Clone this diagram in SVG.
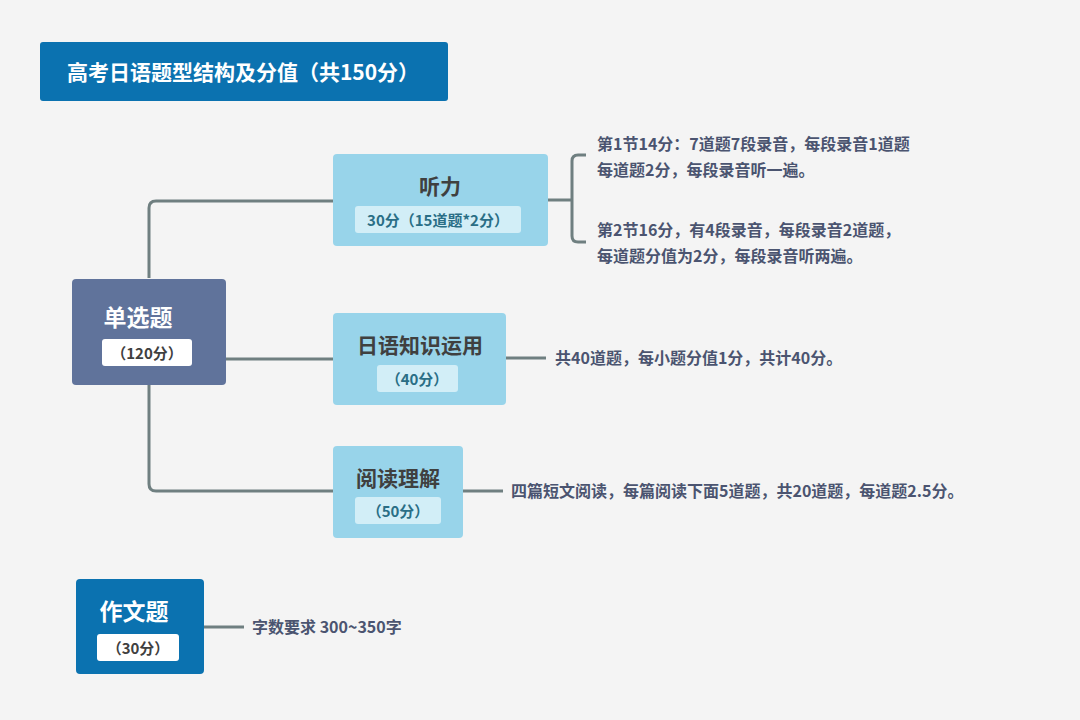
<svg xmlns="http://www.w3.org/2000/svg" width="1080" height="720" viewBox="0 0 1080 720">
<style>
text{font-family:"Noto Sans CJK SC","Liberation Sans",sans-serif;font-weight:bold}
.c{fill:none;stroke:#6f7f80;stroke-width:3}
.sub{fill:#d2eef7}
.t{fill:#3f4040;font-size:21px}
.s{fill:#2a6e86;font-size:15px}
.d{fill:#4b5470;font-size:16px}
</style>
<rect width="1080" height="720" fill="#f4f4f4"/>
<g id="title"><rect x="40" y="42" width="408" height="59" rx="3" fill="#0b72b0"/><text x="243" y="80" font-size="21" fill="#fff" text-anchor="middle">高考日语题型结构及分值（共150分）</text></g>
<g id="connectors">
<path class="c" d="M149 278 V208 Q149 201 156 201 H333"/>
<path class="c" d="M149 385 V484 Q149 491 156 491 H333"/>
<path class="c" d="M226 359 H333"/>
<path class="c" d="M548 200 H572 M586 155 H578 Q572 155 572 161 V236 Q572 242 578 242 H586"/>
<path class="c" d="M506 358 H546"/>
<path class="c" d="M463 491 H503"/>
<path class="c" d="M204 627 H244"/>
</g>
<g id="n-single"><rect x="72" y="279" width="154" height="106" rx="4" fill="#60739b"/><text x="138" y="326" font-size="23" fill="#fff" text-anchor="middle">单选题</text><rect x="102" y="339" width="90" height="27" rx="3" fill="#fff"/><text x="147" y="359" font-size="15" fill="#3f4040" text-anchor="middle">（120分）</text></g>
<g id="n-listen"><rect x="333" y="154" width="215" height="92" rx="4" fill="#98d4ea"/><text class="t" x="440" y="194" text-anchor="middle">听力</text><rect class="sub" x="355" y="206" width="166" height="27" rx="3"/><text class="s" x="438" y="226" text-anchor="middle">30分（15道题*2分）</text></g>
<g id="n-know"><rect x="333" y="313" width="173" height="92" rx="4" fill="#98d4ea"/><text class="t" x="420" y="353" text-anchor="middle">日语知识运用</text><rect class="sub" x="377" y="365" width="81" height="27" rx="3"/><text class="s" x="417" y="385" text-anchor="middle">（40分）</text></g>
<g id="n-read"><rect x="333" y="446" width="130" height="92" rx="4" fill="#98d4ea"/><text class="t" x="398" y="486" text-anchor="middle">阅读理解</text><rect class="sub" x="355" y="497" width="86" height="27" rx="3"/><text class="s" x="398" y="517" text-anchor="middle">（50分）</text></g>
<g id="n-essay"><rect x="76" y="579" width="128" height="95" rx="4" fill="#0b72b0"/><text x="134" y="620" font-size="23" fill="#fff" text-anchor="middle">作文题</text><rect x="97" y="634" width="82" height="27" rx="3" fill="#fff"/><text x="138" y="654" font-size="15" fill="#3f4040" text-anchor="middle">（30分）</text></g>
<g id="texts">
<text class="d" x="597" y="150">第1节14分：7道题7段录音，每段录音1道题</text>
<text class="d" x="597" y="176">每道题2分，每段录音听一遍。</text>
<text class="d" x="597" y="236">第2节16分，有4段录音，每段录音2道题，</text>
<text class="d" x="597" y="262">每道题分值为2分，每段录音听两遍。</text>
<text class="d" x="555" y="364">共40道题，每小题分值1分，共计40分。</text>
<text class="d" x="511" y="497">四篇短文阅读，每篇阅读下面5道题，共20道题，每道题2.5分。</text>
<text class="d" x="252" y="633">字数要求 300~350字</text>
</g>
</svg>
